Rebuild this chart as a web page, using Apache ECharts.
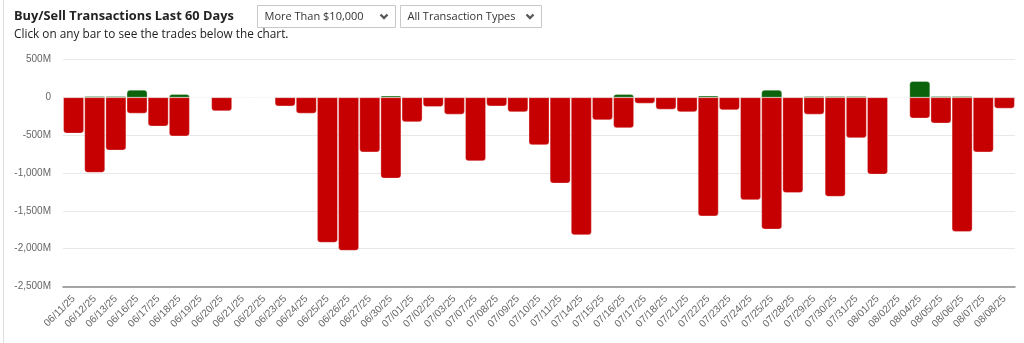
<!DOCTYPE html>
<html>
<head>
<meta charset="utf-8">
<script src="https://cdn.jsdelivr.net/npm/echarts@6/dist/echarts.min.js"></script>
<style>
  html, body { margin: 0; padding: 0; background: #fff; }
  #chart { width: 1024px; height: 343px; }
</style>
</head>
<body>
<div id="chart"></div>
<script>
// Trading days in the 60-day window
const dates = [
  '06/11/25','06/12/25','06/13/25','06/16/25','06/17/25','06/18/25','06/19/25','06/20/25',
  '06/21/25','06/22/25','06/23/25','06/24/25','06/25/25','06/26/25','06/27/25','06/30/25',
  '07/01/25','07/02/25','07/03/25','07/07/25','07/08/25','07/09/25','07/10/25','07/11/25',
  '07/14/25','07/15/25','07/16/25','07/17/25','07/18/25','07/21/25','07/22/25','07/23/25',
  '07/24/25','07/25/25','07/28/25','07/29/25','07/30/25','07/31/25','08/01/25','08/02/25',
  '08/04/25','08/05/25','08/06/25','08/07/25','08/08/25'
];

// Buy volume per day, in millions of dollars
const buys = [
  0, 15, 15, 100, 0, 42, 0, 0,
  0, 0, 0, 0, 0, 0, 0, 22,
  0, 0, 0, 0, 0, 0, 0, 0,
  0, 0, 42, 0, 0, 0, 22, 0,
  0, 100, 0, 15, 15, 15, 0, 0,
  215, 15, 15, 0, 0
];

// Sell volume per day, in millions of dollars (negative)
const sells = [
  -475, -995, -700, -211, -382, -513, 0, -180,
  -2, -2, -115, -211, -1921, -2027, -724, -1071,
  -325, -124, -224, -842, -115, -193, -628, -1137,
  -1821, -299, -404, -79, -158, -193, -1571, -167,
  -1356, -1746, -1263, -224, -1312, -536, -1018, 0,
  -276, -342, -1777, -724, -145
];

// Y axis range and tick step (millions)
const yMin = -2500;
const yMax = 500;
const yStep = 500;

const filterLabels = ['More Than $10,000', 'All Transaction Types'];

const chart = echarts.init(document.getElementById('chart'), null, { renderer: 'canvas' });

function fmtMillions(v) {
  if (v === 0) return '0';
  return v.toLocaleString('en-US') + 'M';
}

function dropdown(x, w, label) {
  return {
    type: 'group',
    left: x, top: 5,
    children: [
      { type: 'rect', shape: { x: 0, y: 0, width: w, height: 22 },
        style: { fill: '#fff', stroke: '#c8c8c8', lineWidth: 1 } },
      { type: 'text', x: 7, y: 11,
        style: { text: label, fill: '#333', font: '11px "Open Sans", sans-serif',
                 textVerticalAlign: 'middle' } },
      { type: 'polyline', shape: { points: [[w - 15, 9], [w - 11.5, 12.5], [w - 8, 9]] },
        style: { stroke: '#5a5a5a', lineWidth: 2.4, fill: null } }
    ]
  };
}

const option = {
  animation: false,
  backgroundColor: '#fff',
  title: [
    { text: 'Buy/Sell Transactions Last 60 Days', left: 14, top: 10, padding: 0,
      textStyle: { fontFamily: 'Open Sans', fontWeight: 'bold', fontSize: 12.8, color: '#222' } },
    { text: 'Click on any bar to see the trades below the chart.', left: 14, top: 29, padding: 0,
      textStyle: { fontFamily: 'Open Sans', fontWeight: 'normal', fontSize: 11.8, color: '#222' } }
  ],
  graphic: [
    { type: 'line', shape: { x1: 3.5, y1: 0, x2: 3.5, y2: 343 },
      style: { stroke: '#dedede', lineWidth: 1 } },
    dropdown(257, 138, filterLabels[0]),
    dropdown(400, 141, filterLabels[1])
  ],
  grid: { left: 63, right: 9, top: 59.7, bottom: 56.7, containLabel: false },
  xAxis: {
    type: 'category',
    data: dates,
    axisLine: { onZero: false, lineStyle: { color: '#8a8a8a', width: 1.5 } },
    axisTick: { show: false },
    axisLabel: {
      rotate: 45, interval: 0, margin: 11,
      fontFamily: 'Liberation Sans', fontSize: 10.3, color: '#666'
    },
    splitLine: { show: false }
  },
  yAxis: {
    type: 'value',
    min: yMin, max: yMax, interval: yStep,
    axisLine: { show: false },
    axisTick: { show: false },
    axisLabel: {
      margin: 12, fontFamily: 'Liberation Sans', fontSize: 10, color: '#666',
      formatter: fmtMillions
    },
    splitLine: { lineStyle: { color: '#e8e8e8', width: 1 } }
  },
  series: [
    {
      name: 'Buys', type: 'bar', stack: 'total', data: buys,
      barCategoryGap: '3%',
      itemStyle: { color: '#0b640b', borderColor: 'rgba(255,255,255,0.6)', borderWidth: 0.5, borderRadius: [3, 3, 0, 0] }
    },
    {
      name: 'Sells', type: 'bar', stack: 'total', data: sells,
      barCategoryGap: '3%',
      itemStyle: { color: '#c60000', borderColor: 'rgba(255,255,255,0.6)', borderWidth: 0.5, borderRadius: [0, 0, 3, 3] }
    }
  ]
};

chart.setOption(option);
</script>
</body>
</html>
